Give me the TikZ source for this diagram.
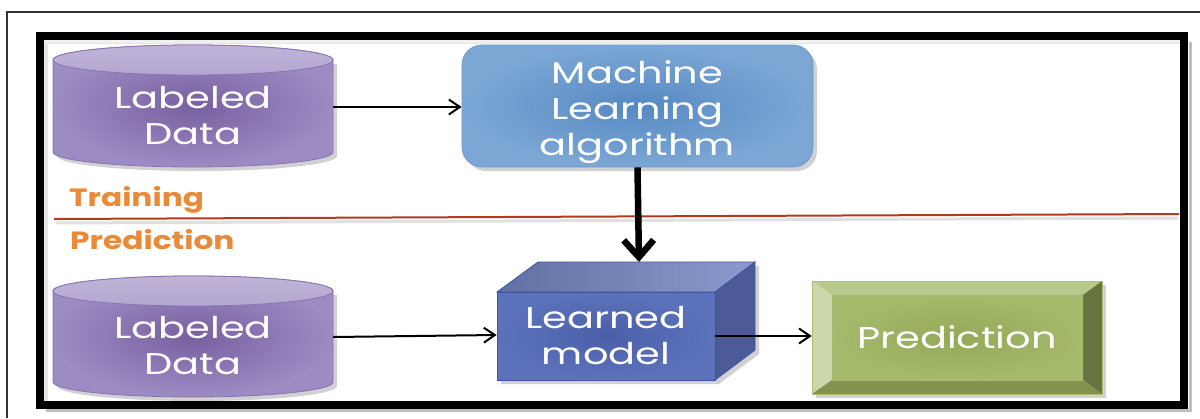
\documentclass[tikz,border=0pt]{standalone}
\usepackage{fontspec}
\setmainfont{Poppins}
\newfontfamily\boxfont[FakeStretch=1.33]{Poppins}
\newfontfamily\phasefont[FakeStretch=1.25]{Poppins}
\usetikzlibrary{arrows.meta}

\definecolor{cylmid}{HTML}{7760A1}
\definecolor{cylrim}{HTML}{9D8BC3}
\definecolor{cylcap}{HTML}{B4A7D0}
\definecolor{cyledge}{HTML}{8673B3}
\definecolor{mlmid}{HTML}{5689C2}
\definecolor{mlrim}{HTML}{7CA7D5}
\definecolor{mledge}{HTML}{6D9BCF}
\definecolor{cubefront}{HTML}{4A5FA8}
\definecolor{cubefrontrim}{HTML}{5C73BC}
\definecolor{cubetop}{HTML}{7888C6}
\definecolor{cubeside}{HTML}{4C5B98}
\definecolor{cubeedge}{HTML}{3E55A3}
\definecolor{predmid}{HTML}{93AA58}
\definecolor{predrim}{HTML}{A5BA6C}
\definecolor{predtop}{HTML}{B7C98C}
\definecolor{predleft}{HTML}{CAD8AB}
\definecolor{predright}{HTML}{66743F}
\definecolor{predbot}{HTML}{83934E}
\definecolor{phase}{HTML}{EA8A38}
\definecolor{divider}{HTML}{B23A1E}

\tikzset{
  whitetext/.style={text=white, align=center, inner sep=0pt,
    font=\boxfont\fontsize{30}{36}\selectfont},
  phasetext/.style={text=phase, anchor=west, inner sep=0pt,
    font=\phasefont\fontsize{25}{30}\selectfont\bfseries},
  thinarrow/.style={line width=2pt, -{Straight Barb[length=11pt,width=15pt]}},
  thickarrow/.style={line width=6.5pt, -{Straight Barb[length=17pt,width=30pt]}},
  boxshadow/.style={fill=black, opacity=0.18},
}

% a database drum: left x, right x, cap centre y, base centre y
\newcommand{\drum}[4]{%
  \pgfmathsetmacro{\rx}{(#2-#1)/2}%
  \pgfmathsetmacro{\cx}{(#2+#1)/2}%
  \fill[boxshadow] (#1+4,#3+4) -- (#1+4,#4+4) arc[start angle=180, end angle=360, x radius=\rx pt, y radius=15pt]
    -- (#2+4,#3+4) -- cycle;
  \shade[inner color=cylmid, outer color=cylrim, draw=cyledge, line width=0.8pt]
    (#1,#3) -- (#1,#4) arc[start angle=180, end angle=360, x radius=\rx pt, y radius=15pt]
    -- (#2,#3) arc[start angle=0, end angle=180, x radius=\rx pt, y radius=15pt] -- cycle;
  \shade[top color=cylcap!85!white, bottom color=cylcap, draw=cyledge, line width=0.8pt]
    (\cx,#3) ellipse[x radius=\rx pt, y radius=15pt];
}

\begin{document}
\begin{tikzpicture}[x=1pt, y=-1pt]
  \useasboundingbox (0,0) rectangle (1200,418);
  \fill[white] (0,0) rectangle (1200,418);

  % outer thin frame (open at right and bottom)
  \draw[line width=1.2pt, black!80] (7,418) -- (7,12) -- (1200,12);

  % heavy frame with soft shading
  \fill[black!10] (44,40) rectangle (1180,401);
  \fill[white] (48,44) rectangle (1180,401);
  \fill[black!6] (44,40) rectangle (1180,43);
  \draw[black!25, line width=3pt] (1190,42) -- (1190,410) -- (46,410);
  \draw[line width=8pt] (40,36) rectangle (1184,405);

  % training / prediction divider
  \draw[black!12, line width=3pt] (56,223) -- (1178,218);
  \draw[divider, line width=2pt] (54,219) -- (1179,214);

  \node[phasetext] (train) at (69,200) {Training};
  \node[phasetext] (predict) at (70,240) {Prediction};

  % data stores
  \drum{53}{333}{60}{152}
  \drum{53}{333}{291}{382}
  \node[whitetext, minimum width=280pt, minimum height=122pt] (data1) at (193,116) {Labeled\\Data};
  \node[whitetext, minimum width=280pt, minimum height=122pt] (data2) at (193,346) {Labeled\\Data};

  % learning algorithm
  \fill[boxshadow, rounded corners=20pt] (466,49) rectangle (817,171);
  \node[whitetext, minimum width=351pt, minimum height=122pt, rounded corners=20pt,
        inner color=mlmid, outer color=mlrim, draw=mledge, line width=0.8pt] (ml) at (637.5,106)
        {\raisebox{-6pt}[\height][\depth]{\begin{tabular}{@{}c@{}}Machine\\Learning\\algorithm\end{tabular}}};

  % learned model block
  \fill[boxshadow] (501,296) -- (542,266) -- (759,266) -- (759,354) -- (719,384) -- (501,384) -- cycle;
  \shade[left color=cubetop!80!black!90!cubetop, right color=cubetop!85!white, draw=cubeedge, line width=0.8pt]
    (497,292) -- (538,262) -- (755,262) -- (715,292) -- cycle;
  \fill[cubeside, draw=cubeedge, line width=0.8pt]
    (715,292) -- (755,262) -- (755,350) -- (715,380) -- cycle;
  \node[whitetext, minimum width=218pt, minimum height=88pt,
        inner color=cubefront, outer color=cubefrontrim, draw=cubeedge, line width=0.8pt] (model) at (606,336)
        {Learned\\model};
  \coordinate (modeltop) at (639,262);

  % prediction output (bevelled block)
  \fill[boxshadow] (816,285) rectangle (1106,398);
  \fill[predtop] (812,281) -- (1102,281) -- (1083,295) -- (832,295) -- cycle;
  \fill[predleft] (812,281) -- (832,295) -- (832,380) -- (812,394) -- cycle;
  \fill[predright] (1102,281) -- (1102,394) -- (1083,380) -- (1083,295) -- cycle;
  \fill[predbot] (812,394) -- (832,380) -- (1083,380) -- (1102,394) -- cycle;
  \shade[inner color=predmid, outer color=predrim] (832,295) rectangle (1083,380);
  \draw[predtop!70!predmid, line width=0.8pt] (812,281) rectangle (1102,394);
  \node[whitetext, minimum width=290pt, minimum height=113pt] (pred) at (957,337.5) {Prediction};

  % connectors
  \draw[thinarrow] ([yshift=9pt]data1.east) -- (ml.west |- 0,107);
  \draw[thickarrow] (ml.south) -- (modeltop);
  \draw[thinarrow] ([yshift=9pt]data2.east) -- ([yshift=1pt]model.west);
  \draw[thinarrow] (model.east) -- (pred.west |- model.east);
\end{tikzpicture}
\end{document}
